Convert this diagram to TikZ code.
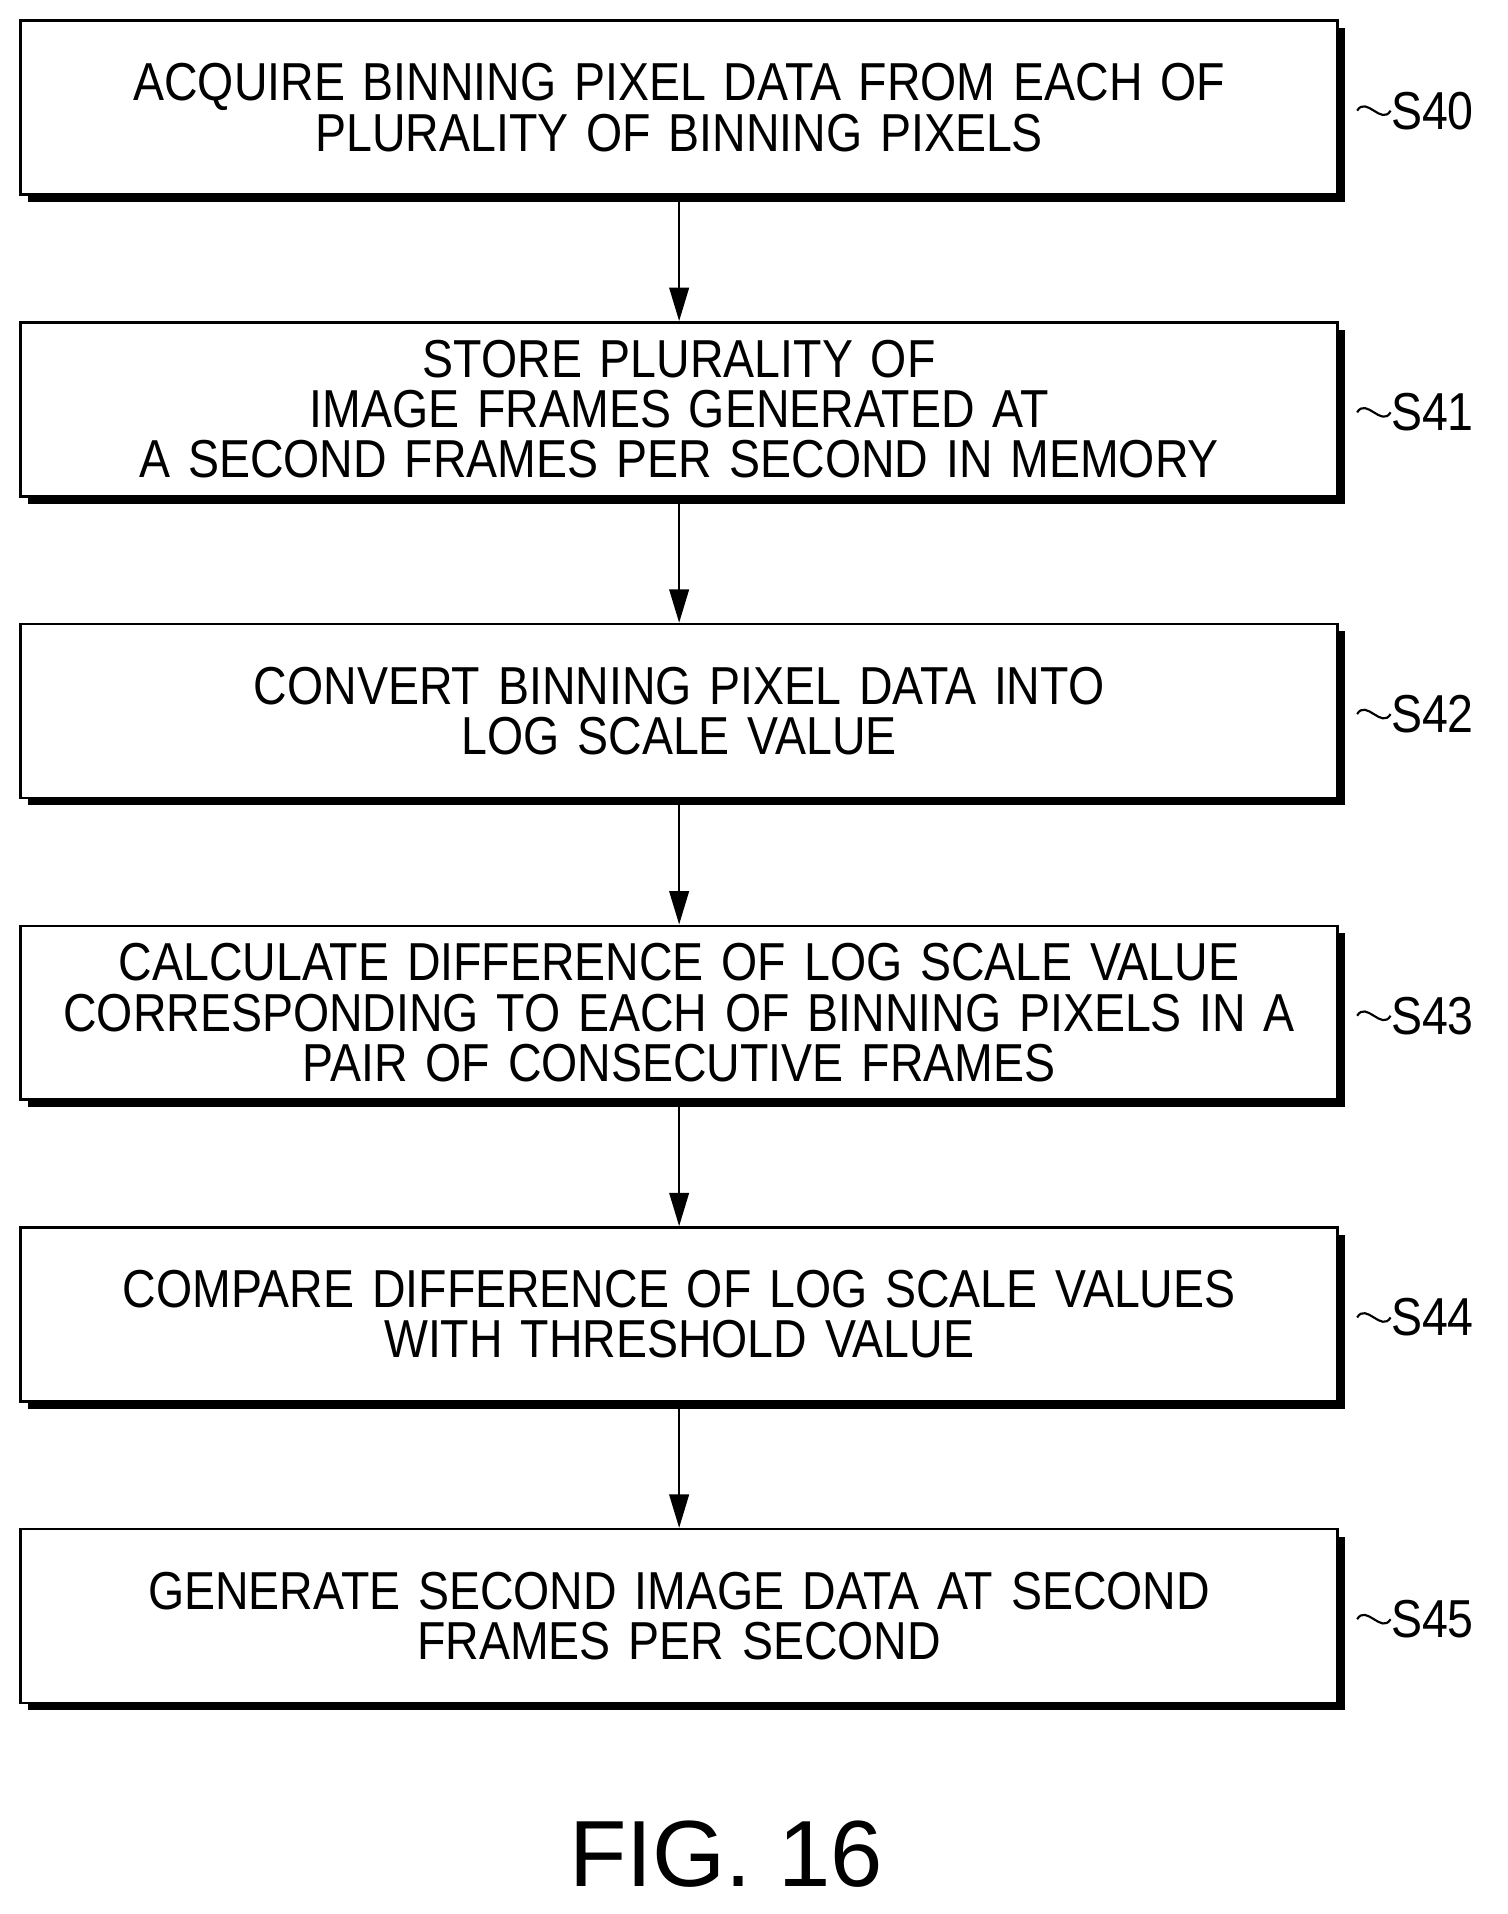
\documentclass[tikz,border=0pt]{standalone}
\usepackage{fontspec}
\setmainfont{Liberation Sans}[FakeStretch=0.87]
\newfontfamily\figfont{Liberation Sans}
\usetikzlibrary{positioning,arrows.meta,shadows,calc}
\tikzset{
  procbox/.style={draw, line width=1.2pt, minimum width=21.66cm, minimum height=2.86cm, inner sep=0pt,
    text width=21.4cm, align=center, font=\fontsize{25}{23.5}\selectfont, fill=white,
    drop shadow={shadow xshift=0.12cm, shadow yshift=-0.12cm, fill=black, opacity=1}},
  flow/.style={-{Triangle[length=0.55cm,width=0.32cm]}, line width=1.2pt},
  tag/.style={anchor=west, font=\fontsize{25}{30}\selectfont, inner sep=0pt},
}
\newcommand{\steptag}[2]{%
  \draw[line width=1pt] ($(#1.east)+(0.3,-0.05)$) .. controls +(0.15,0.25) and +(-0.15,-0.25) .. ++(0.55,0) coordinate (t#1);
  \node[tag] (l#1) at (t#1) {#2};
}
\begin{document}
\begin{tikzpicture}
\useasboundingbox (0,0) rectangle (24.8,-31.48);
% process steps
\node[procbox] (s40) at (11.17,-1.77) {ACQUIRE BINNING PIXEL DATA FROM EACH OF\\PLURALITY OF BINNING PIXELS};
\node[procbox, below=2.06cm of s40] (s41) {STORE PLURALITY OF\\IMAGE FRAMES GENERATED AT\\A SECOND FRAMES PER SECOND IN MEMORY};
\node[procbox, below=2.06cm of s41] (s42) {CONVERT BINNING PIXEL DATA INTO\\LOG SCALE VALUE};
\node[procbox, below=2.06cm of s42] (s43) {CALCULATE DIFFERENCE OF LOG SCALE VALUE\\CORRESPONDING TO EACH OF BINNING PIXELS IN A\\PAIR OF CONSECUTIVE FRAMES};
\node[procbox, below=2.06cm of s43] (s44) {COMPARE DIFFERENCE OF LOG SCALE VALUES\\WITH THRESHOLD VALUE};
\node[procbox, below=2.06cm of s44] (s45) {GENERATE SECOND IMAGE DATA AT SECOND\\FRAMES PER SECOND};
% arrows
\foreach \a/\b in {s40/s41,s41/s42,s42/s43,s43/s44,s44/s45}
  \draw[flow] (\a) -- (\b);
% step labels
\steptag{s40}{S40}
\steptag{s41}{S41}
\steptag{s42}{S42}
\steptag{s43}{S43}
\steptag{s44}{S44}
\steptag{s45}{S45}
% caption
\node[font=\figfont\fontsize{44}{48}\selectfont] (fig) at (11.94,-30.5) {FIG. 16};
\end{tikzpicture}
\end{document}
